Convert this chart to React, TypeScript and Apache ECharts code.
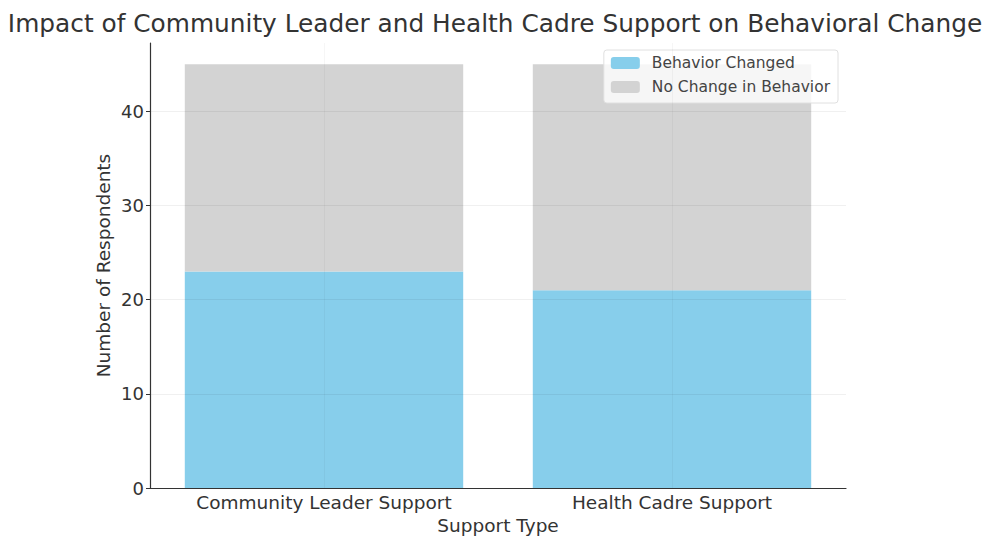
import React, { useEffect, useRef } from "react";
import * as echarts from "echarts";

const categories = ["Community Leader Support", "Health Cadre Support"];
const behaviorChanged = [23, 21];
const noChange = [22, 24];
const yTicks = [0, 10, 20, 30, 40];

export default function App() {
  const ref = useRef<HTMLDivElement>(null);
  useEffect(() => {
    if (!ref.current) return;
    const chart = echarts.init(ref.current, undefined, { renderer: "svg" });
    const font = "DejaVu Sans";
    const gridColor = "rgba(0,0,0,0.06)";
    chart.setOption({
      animation: false,
      textStyle: { fontFamily: font },
      title: {
        text: "Impact of Community Leader and Health Cadre Support on Behavioral Change",
        left: "center",
        top: 6,
        textStyle: { fontFamily: font, fontSize: 24.8, fontWeight: "normal", color: "#333" },
      },
      legend: {
        orient: "vertical",
        right: 152,
        top: 50,
        itemWidth: 29,
        itemHeight: 12,
        itemGap: 8,
        padding: [5, 8, 8, 7],
        borderColor: "#e0e0e0",
        borderWidth: 1,
        borderRadius: 3,
        backgroundColor: "rgba(255,255,255,0.8)",
        textStyle: { fontFamily: font, fontSize: 15.5, lineHeight: 16, color: "#444", padding: [0, 0, 0, 7] },
        data: ["Behavior Changed", "No Change in Behavior"],
      },
      grid: { left: 150, right: 144, top: 43, bottom: 48, containLabel: false, outerBoundsMode: "none" },
      xAxis: {
        type: "category",
        data: categories,
        name: "Support Type",
        nameLocation: "middle",
        nameGap: 28,
        nameMoveOverlap: false,
        nameTextStyle: { fontFamily: font, fontSize: 18.5, color: "#333" },
        axisLine: { lineStyle: { color: "#333", width: 1.2 } },
        axisTick: { alignWithLabel: true, inside: true, length: 4, lineStyle: { color: "#333" } },
        axisLabel: { fontFamily: font, fontSize: 18.5, color: "#333", margin: 5 },
        splitLine: { show: false },
        z: 4,
      },
      yAxis: {
        type: "value",
        min: 0,
        max: 47.25,
        interval: 10,
        name: "Number of Respondents",
        nameLocation: "middle",
        nameGap: 37,
        nameMoveOverlap: false,
        nameTextStyle: { fontFamily: font, fontSize: 18.5, color: "#333" },
        axisLine: { show: true, lineStyle: { color: "#333", width: 1.2 } },
        axisTick: { show: true, length: 4, lineStyle: { color: "#333" } },
        axisLabel: {
          fontFamily: font,
          fontSize: 18,
          color: "#333",
          margin: 6,
          showMaxLabel: false,
          formatter: (v: number) => (yTicks.includes(v) ? String(v) : ""),
        },
        splitLine: { show: true, showMinLine: false, showMaxLine: false, lineStyle: { color: gridColor, width: 1.2 } },
        z: 4,
      },
      series: [
        {
          name: "Behavior Changed",
          type: "bar",
          stack: "total",
          data: behaviorChanged,
          barWidth: "80%",
          itemStyle: { color: "#87CEEB" },
        },
        {
          name: "No Change in Behavior",
          type: "bar",
          stack: "total",
          data: noChange,
          barWidth: "80%",
          itemStyle: { color: "#D3D3D3" },
          markLine: {
            silent: true,
            symbol: "none",
            label: { show: false },
            lineStyle: { color: "rgba(0,0,0,0.035)", type: "solid", width: 1.2 },
            data: categories.map((c) => ({ xAxis: c })),
          },
        },
      ],
    });
    return () => chart.dispose();
  }, []);
  return <div ref={ref} style={{ width: 990, height: 536, position: "absolute", left: 0, top: 0 }} />;
}
